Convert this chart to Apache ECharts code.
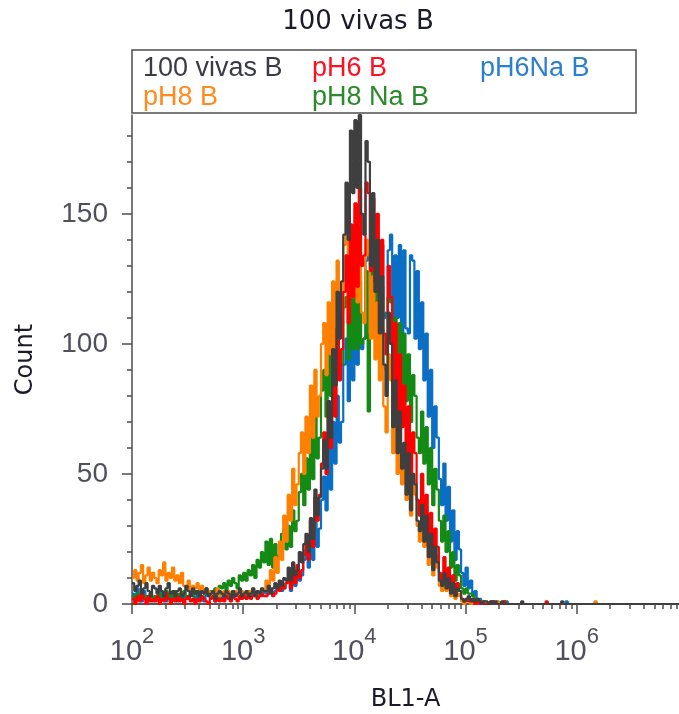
<!DOCTYPE html>
<html>
<head>
<meta charset="utf-8">
<script src="https://cdn.jsdelivr.net/npm/echarts@6/dist/echarts.min.js"></script>
<style>
html, body { margin: 0; padding: 0; background: #fff; }
#main { width: 679px; height: 714px; }
</style>
</head>
<body>
<div id="main"></div>
<script>
var myChart = echarts.init(document.getElementById('main'));

// histogram bins: left edges in log10 units, 0.02 decade wide, 10^2 .. 10^6.92
var binStartLog = 2;
var binWidthLog = 0.02;

var counts100vivas = [
    8, 5, 7, 9, 4, 6, 8, 5, 3, 7,
    6, 4, 7, 5, 3, 6, 8, 4, 5, 3,
    5, 6, 3, 4, 7, 5, 3, 6, 4, 5,
    3, 5, 4, 6, 3, 4, 5, 2, 4, 5,
    4, 3, 5, 4, 2, 5, 3, 4, 6, 3,
    4, 5, 3, 4, 6, 3, 5, 4, 6, 5,
    5, 7, 4, 6, 8, 6, 9, 7, 10, 9,
    14, 9, 16, 11, 13, 20, 16, 23, 27, 20,
    33, 25, 44, 34, 41, 52, 63, 52, 78, 64,
    98, 84, 120, 102, 124, 142, 162, 140, 182, 158,
    186, 160, 188, 150, 142, 178, 170, 130, 158, 120,
    140, 104, 126, 92, 80, 112, 100, 68, 86, 58,
    74, 52, 62, 42, 58, 36, 50, 46, 32, 28,
    38, 24, 34, 18, 27, 13, 22, 16, 9, 7,
    12, 6, 10, 4, 8, 3, 6, 5, 2, 1,
    2, 3, 1, 2, 1, 2, 1, 0, 1, 1,
    0, 1, 0, 1, 0, 0, 1, 0, 0, 0,
    0, 0, 0, 0, 0, 1, 0, 0, 0, 0,
    0, 0, 0, 0, 0, 0, 0, 0, 0, 0,
    0, 0, 0, 1, 0, 0, 0, 0, 0, 0,
    0, 0, 0, 0, 0, 0, 0, 0, 0, 0,
    0, 0, 0, 0, 0, 0, 0, 0, 0, 0,
    0, 0, 0, 0, 0, 0, 0, 0, 0, 0,
    0, 0, 0, 0, 0, 0, 0, 0, 0, 0,
    0, 0, 0, 0, 0, 0, 0
];
var countsPH6 = [
    2, 0, 3, 1, 4, 2, 0, 3, 1, 2,
    1, 3, 0, 2, 1, 4, 2, 0, 2, 1,
    3, 1, 2, 0, 2, 3, 1, 2, 0, 2,
    1, 3, 2, 1, 0, 2, 3, 1, 2, 1,
    2, 1, 3, 2, 1, 3, 2, 1, 3, 2,
    3, 2, 4, 2, 3, 4, 2, 3, 4, 3,
    3, 4, 5, 3, 4, 6, 5, 7, 6, 8,
    9, 6, 13, 8, 15, 10, 13, 19, 24, 17,
    32, 22, 41, 32, 42, 54, 66, 50, 78, 60,
    92, 72, 106, 86, 98, 120, 134, 108, 146, 118,
    154, 122, 160, 130, 134, 162, 158, 128, 156, 124,
    150, 116, 140, 104, 96, 130, 118, 84, 108, 74,
    96, 68, 84, 56, 76, 48, 66, 58, 40, 34,
    50, 30, 42, 22, 35, 17, 29, 22, 12, 9,
    18, 8, 14, 5, 11, 3, 8, 5, 2, 1,
    2, 1, 2, 1, 0, 1, 0, 1, 0, 0,
    0, 0, 1, 0, 0, 0, 0, 1, 0, 0,
    0, 0, 0, 0, 0, 0, 0, 0, 0, 0,
    0, 0, 0, 0, 0, 0, 1, 0, 0, 0,
    0, 0, 0, 0, 0, 0, 0, 0, 0, 0,
    0, 0, 0, 0, 0, 0, 0, 0, 0, 0,
    0, 0, 0, 0, 0, 0, 0, 0, 0, 0,
    0, 0, 0, 0, 0, 0, 0, 0, 0, 0,
    0, 0, 0, 0, 0, 0, 0, 0, 0, 0,
    0, 0, 0, 0, 0, 0, 0
];
var countsPH6Na = [
    4, 2, 6, 3, 1, 5, 3, 2, 4, 1,
    3, 2, 5, 2, 3, 1, 4, 2, 3, 2,
    1, 3, 2, 4, 2, 3, 5, 3, 1, 4,
    2, 3, 1, 4, 3, 2, 4, 1, 3, 2,
    3, 2, 4, 3, 2, 5, 3, 4, 2, 3,
    4, 3, 5, 3, 4, 3, 5, 4, 3, 5,
    4, 5, 6, 4, 5, 6, 7, 5, 6, 8,
    10, 5, 12, 7, 14, 9, 11, 17, 21, 14,
    26, 17, 32, 22, 29, 40, 49, 36, 60, 44,
    70, 54, 80, 62, 70, 92, 102, 78, 110, 86,
    118, 92, 124, 98, 102, 132, 134, 104, 138, 106,
    140, 108, 138, 110, 112, 136, 142, 106, 134, 110,
    138, 104, 136, 106, 104, 134, 132, 102, 128, 98,
    116, 86, 104, 72, 90, 60, 76, 64, 48, 38,
    54, 32, 45, 24, 36, 17, 28, 21, 12, 7,
    14, 6, 9, 3, 5, 2, 2, 0, 1, 0,
    0, 1, 0, 0, 1, 0, 0, 0, 1, 0,
    0, 0, 0, 0, 0, 0, 0, 0, 0, 0,
    0, 0, 0, 0, 0, 0, 0, 0, 0, 0,
    0, 0, 0, 0, 0, 1, 0, 0, 0, 0,
    0, 0, 0, 0, 0, 0, 0, 0, 0, 0,
    0, 0, 0, 0, 0, 0, 0, 0, 0, 0,
    0, 0, 0, 0, 0, 0, 0, 0, 0, 0,
    0, 0, 0, 0, 0, 0, 0, 0, 0, 0,
    0, 0, 0, 0, 0, 0, 0
];
var countsPH8 = [
    10, 13, 9, 12, 15, 8, 11, 14, 9, 12,
    10, 8, 13, 11, 16, 9, 12, 10, 14, 9,
    11, 8, 12, 7, 6, 9, 5, 7, 6, 8,
    5, 7, 4, 6, 5, 3, 5, 4, 6, 3,
    4, 5, 3, 5, 4, 3, 5, 4, 3, 5,
    4, 3, 5, 4, 6, 4, 5, 3, 6, 5,
    9, 6, 13, 9, 18, 12, 24, 17, 34, 24,
    42, 32, 52, 38, 46, 58, 66, 50, 72, 58,
    84, 64, 90, 72, 80, 100, 108, 88, 116, 96,
    124, 98, 132, 106, 112, 138, 142, 114, 144, 118,
    146, 116, 142, 112, 108, 140, 134, 102, 126, 94,
    116, 86, 106, 76, 66, 96, 86, 58, 76, 50,
    68, 46, 60, 40, 54, 34, 48, 42, 30, 24,
    36, 22, 30, 15, 23, 11, 19, 14, 7, 5,
    11, 5, 8, 3, 6, 2, 4, 3, 1, 0,
    1, 2, 0, 1, 0, 1, 0, 0, 1, 0,
    0, 0, 0, 0, 1, 0, 0, 0, 0, 0,
    0, 0, 0, 0, 0, 0, 0, 0, 0, 0,
    0, 0, 0, 0, 0, 0, 0, 0, 0, 0,
    0, 0, 0, 0, 0, 0, 0, 0, 0, 0,
    0, 0, 0, 0, 0, 0, 0, 0, 1, 0,
    0, 0, 0, 0, 0, 0, 0, 0, 0, 0,
    0, 0, 0, 0, 0, 0, 0, 0, 0, 0,
    0, 0, 0, 0, 0, 0, 0, 0, 0, 0,
    0, 0, 0, 0, 0, 0, 0
];
var countsPH8Na = [
    3, 1, 4, 2, 5, 2, 3, 1, 4, 2,
    3, 2, 4, 3, 2, 5, 3, 4, 2, 5,
    2, 4, 3, 5, 3, 2, 4, 3, 5, 4,
    3, 5, 4, 6, 4, 5, 3, 6, 5, 7,
    6, 8, 5, 9, 7, 10, 8, 6, 11, 9,
    12, 9, 13, 11, 15, 10, 17, 14, 20, 16,
    24, 15, 25, 14, 23, 17, 19, 27, 29, 21,
    30, 22, 36, 28, 32, 43, 50, 38, 56, 44,
    64, 48, 74, 56, 64, 82, 90, 72, 98, 80,
    104, 84, 110, 88, 92, 114, 118, 94, 122, 98,
    124, 98, 126, 100, 102, 128, 74, 104, 128, 102,
    126, 98, 122, 92, 90, 118, 116, 86, 110, 84,
    108, 84, 104, 78, 96, 70, 88, 80, 64, 58,
    74, 54, 68, 46, 60, 38, 52, 44, 32, 24,
    34, 20, 28, 14, 20, 9, 15, 11, 6, 4,
    6, 4, 4, 3, 2, 1, 1, 0, 1, 0,
    0, 0, 1, 0, 0, 0, 0, 1, 0, 0,
    0, 0, 0, 0, 0, 0, 0, 0, 0, 0,
    0, 0, 0, 0, 0, 0, 0, 0, 0, 0,
    0, 0, 0, 0, 0, 0, 0, 0, 0, 0,
    0, 0, 0, 0, 0, 0, 0, 0, 0, 0,
    0, 0, 0, 0, 0, 0, 0, 0, 0, 0,
    0, 0, 0, 0, 0, 0, 0, 0, 0, 0,
    0, 0, 0, 0, 0, 0, 0, 0, 0, 0,
    0, 0, 0, 0, 0, 0, 0
];

var xTicks = [1e2, 1e3, 1e4, 1e5, 1e6];
var xMinorMultipliers = [2, 3, 4, 5, 6, 7, 8, 9];
var yTicks = [0, 50, 100, 150];
var yMinorTicks = [10, 20, 30, 40, 60, 70, 80, 90, 110, 120, 130, 140, 160, 170, 180];

var xMin = 1e2;
var xMax = Math.pow(10, 6.92);
var yMax = 188;

var colors = {
    '100 vivas B': '#3f3f3f',
    'pH6 B': '#ff0000',
    'pH6Na B': '#0a6fc4',
    'pH8 B': '#ff8000',
    'pH8 Na B': '#138a13'
};
var legendText = {
    '100 vivas B': '#3a3a48',
    'pH6 B': '#ff1020',
    'pH6Na B': '#2a7fd0',
    'pH8 B': '#ff8a20',
    'pH8 Na B': '#2a8a2a'
};

var xMinorTicks = [];
xTicks.forEach(function (d) {
    xMinorMultipliers.forEach(function (m) {
        if (d * m <= xMax) xMinorTicks.push(d * m);
    });
});

function toSteps(counts) {
    return counts.map(function (c, i) {
        return [Math.pow(10, binStartLog + binWidthLog * i), c];
    });
}

var axisColor = '#4d4d4d';
var labelColor = '#50505c';

function makeLegend(name, left, top) {
    return {
        left: left,
        top: top,
        padding: 0,
        icon: 'none',
        itemWidth: 0,
        itemHeight: 30,
        selectedMode: false,
        textStyle: {
            fontFamily: 'Liberation Sans',
            fontSize: 27,
            lineHeight: 30
        },
        data: [{ name: name, textStyle: { color: legendText[name] } }]
    };
}

function makeSeries(name, counts) {
    return {
        name: name,
        type: 'line',
        step: 'end',
        showSymbol: false,
        symbol: 'none',
        clip: true,
        animation: false,
        color: colors[name],
        lineStyle: { width: 2.2, color: colors[name] },
        data: toSteps(counts)
    };
}

var option = {
    backgroundColor: '#fff',
    animation: false,
    title: {
        text: '100 vivas B',
        left: 358,
        top: 9,
        padding: 0,
        textAlign: 'center',
        textStyle: {
            fontFamily: 'DejaVu Sans',
            fontSize: 26,
            fontWeight: 'normal',
            color: '#1a1a2a'
        }
    },
    legend: [
        makeLegend('100 vivas B', 138, 54),
        makeLegend('pH6 B', 307, 54),
        makeLegend('pH6Na B', 475, 54),
        makeLegend('pH8 B', 138, 83),
        makeLegend('pH8 Na B', 307, 83)
    ],
    graphic: [{
        type: 'rect',
        shape: { x: 132, y: 50, width: 504, height: 63 },
        style: { fill: 'none', stroke: axisColor, lineWidth: 1.5 },
        z: 10
    }],
    grid: { left: 132, right: 0, top: 115, bottom: 110, outerBoundsMode: 'none' },
    xAxis: [{
        type: 'log',
        logBase: 10,
        min: xMin,
        max: xMax,
        name: 'BL1-A',
        nameLocation: 'middle',
        nameGap: 84,
        nameTextStyle: { fontFamily: 'DejaVu Sans', fontSize: 24, color: '#1a1a2a' },
        axisLine: { show: true, onZero: false, lineStyle: { color: axisColor, width: 1.5 } },
        axisTick: { show: true, length: 10, customValues: xTicks, lineStyle: { color: axisColor, width: 1.5 } },
        minorTick: { show: false },
        splitLine: { show: false },
        axisLabel: {
            customValues: xTicks,
            margin: 30,
            color: labelColor,
            formatter: function (v) {
                return '{b|10}{s|' + Math.round(Math.log10(v)) + '}';
            },
            rich: {
                b: { fontFamily: 'Liberation Sans', fontSize: 29, lineHeight: 32, color: labelColor, verticalAlign: 'bottom' },
                s: { fontFamily: 'Liberation Sans', fontSize: 22, lineHeight: 24, color: labelColor, verticalAlign: 'bottom', padding: [0, 0, 18, 0] }
            }
        }
    }, {
        type: 'log',
        logBase: 10,
        min: xMin,
        max: xMax,
        position: 'bottom',
        axisLine: { show: false },
        axisTick: { show: true, length: 5, customValues: xMinorTicks, lineStyle: { color: axisColor, width: 1.5 } },
        axisLabel: { show: false },
        splitLine: { show: false }
    }, {
        type: 'value',
        min: 0,
        max: 1,
        position: 'top',
        axisLine: { show: true, lineStyle: { color: axisColor, width: 1.5 } },
        axisTick: { show: false },
        axisLabel: { show: false },
        splitLine: { show: false }
    }],
    yAxis: [{
        type: 'value',
        min: 0,
        max: yMax,
        name: 'Count',
        nameLocation: 'middle',
        nameRotate: 90,
        nameGap: 94,
        nameTextStyle: { fontFamily: 'DejaVu Sans', fontSize: 24, color: '#1a1a2a' },
        axisLine: { show: true, lineStyle: { color: axisColor, width: 1.5 } },
        axisTick: { show: true, length: 10, customValues: yTicks, lineStyle: { color: axisColor, width: 1.5 } },
        splitLine: { show: false },
        axisLabel: {
            customValues: yTicks,
            margin: 24,
            fontFamily: 'Liberation Sans',
            fontSize: 28,
            color: labelColor
        }
    }, {
        type: 'value',
        min: 0,
        max: yMax,
        position: 'left',
        axisLine: { show: false },
        axisTick: { show: true, length: 5, customValues: yMinorTicks, lineStyle: { color: axisColor, width: 1.5 } },
        axisLabel: { show: false },
        splitLine: { show: false }
    }],
    series: [
        makeSeries('pH6Na B', countsPH6Na),
        makeSeries('pH8 Na B', countsPH8Na),
        makeSeries('pH8 B', countsPH8),
        makeSeries('pH6 B', countsPH6),
        makeSeries('100 vivas B', counts100vivas)
    ]
};

myChart.setOption(option);
window.onresize = myChart.resize;
</script>
</body>
</html>
